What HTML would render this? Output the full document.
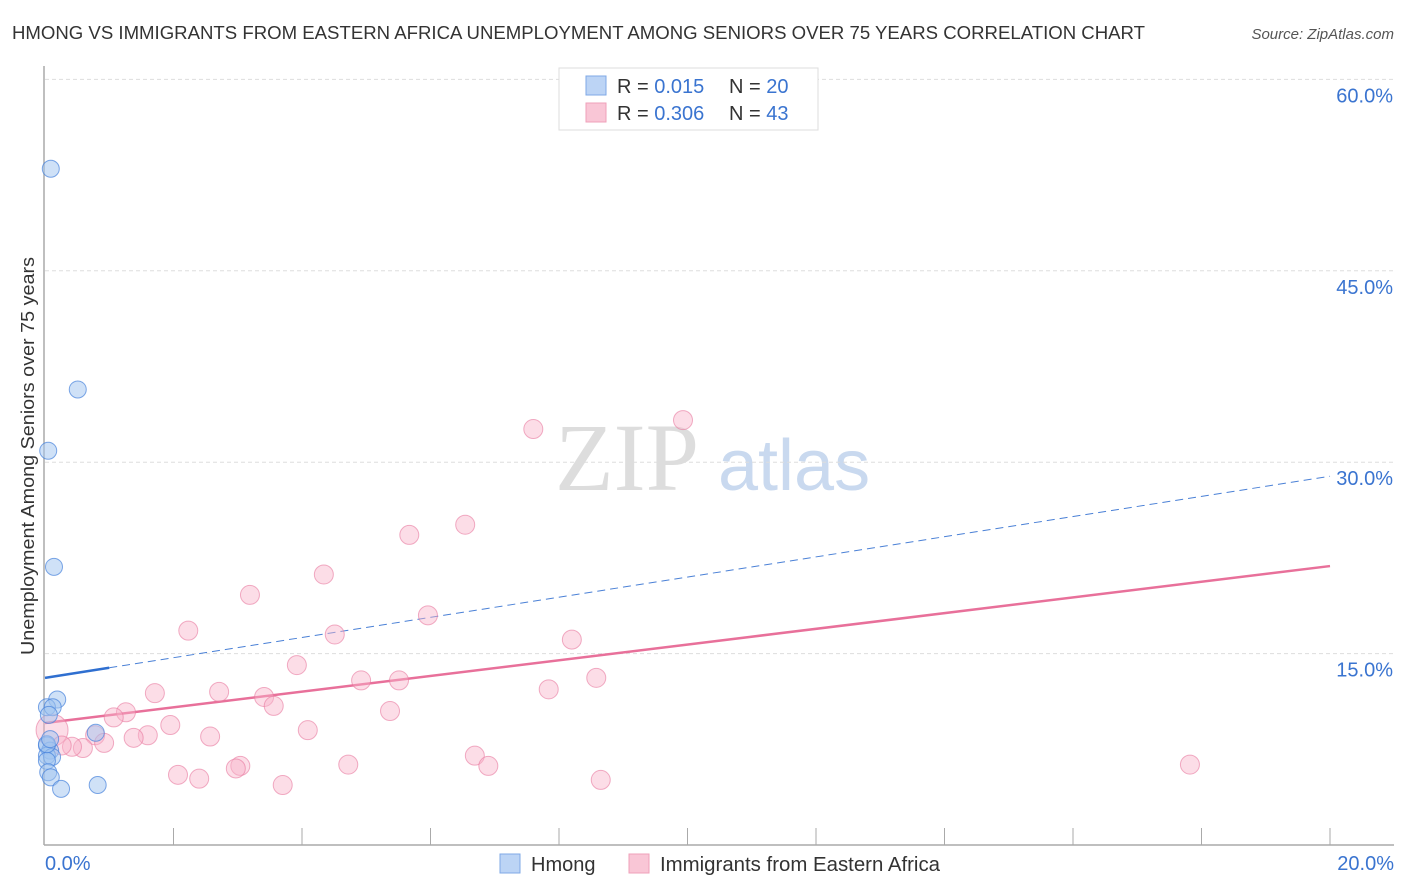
<!DOCTYPE html>
<html><head><meta charset="utf-8"><style>
body{margin:0;background:#fff;font-family:"Liberation Sans",sans-serif;}
svg{display:block}
</style></head><body>
<svg id="chart" width="1406" height="892" xmlns="http://www.w3.org/2000/svg">
<text x="12" y="39" font-size="18" fill="#333" textLength="1133" lengthAdjust="spacingAndGlyphs">HMONG VS IMMIGRANTS FROM EASTERN AFRICA UNEMPLOYMENT AMONG SENIORS OVER 75 YEARS CORRELATION CHART</text>
<text x="1394" y="39" font-size="15" fill="#555" text-anchor="end" font-style="italic">Source: ZipAtlas.com</text>
<text x="555" y="490" font-size="96" fill="#ddd" font-family="Liberation Serif,serif">ZIP</text>
<text x="718" y="490" font-size="72" fill="#c9d9ef">atlas</text>
<text transform="translate(34,456) rotate(-90)" font-size="18" fill="#333" text-anchor="middle" textLength="398" lengthAdjust="spacingAndGlyphs">Unemployment Among Seniors over 75 years</text>
<g id="grid"></g><g id="axes"></g><g id="lines"></g><g id="pts"></g>
<g>
<rect x="559" y="68" width="259" height="62" fill="#fff" stroke="#ddd"/>
<rect x="586" y="76" width="20" height="19" fill="#bcd4f5" stroke="#7fa8e6"/>
<rect x="586" y="103" width="20" height="19" fill="#f9c6d6" stroke="#efa0ba"/>
<text x="617" y="93" font-size="20" fill="#333">R = <tspan fill="#3a74d0">0.015</tspan></text>
<text x="729" y="93" font-size="20" fill="#333">N = <tspan fill="#3a74d0">20</tspan></text>
<text x="617" y="120" font-size="20" fill="#333">R = <tspan fill="#3a74d0">0.306</tspan></text>
<text x="729" y="120" font-size="20" fill="#333">N = <tspan fill="#3a74d0">43</tspan></text>
</g>
<g>
<rect x="500" y="854" width="20" height="19" fill="#bcd4f5" stroke="#7fa8e6"/>
<text x="531" y="871" font-size="20" fill="#333">Hmong</text>
<rect x="629" y="854" width="20" height="19" fill="#f9c6d6" stroke="#efa0ba"/>
<text x="660" y="871" font-size="20" fill="#333" textLength="280" lengthAdjust="spacingAndGlyphs">Immigrants from Eastern Africa</text>
</g>
</svg>
<script>
const yTicks=[15,30,45,60];
const yTickLabels=["15.0%","30.0%","45.0%","60.0%"];
const xTickLabels=["0.0%","20.0%"];
const hmongX=[0.09,0.51,0.05,0.14,0.19,0.03,0.12,0.06,0.79,0.03,0.08,0.03,0.11,0.03,0.05,0.09,0.25,0.82,0.03,0.08];
const hmongY=[53,35.7,30.9,21.8,11.4,10.8,10.8,10.2,8.8,7.8,7.4,7.0,6.9,6.6,5.7,5.3,4.4,4.7,7.9,8.3];
const eafX=[0.11,7.6,9.93,6.54,5.67,4.34,3.19,5.96,2.23,4.51,8.2,3.92,4.92,5.51,8.58,7.84,1.71,2.71,3.41,3.56,1.26,1.07,5.37,1.95,4.09,2.57,1.6,1.38,0.78,0.92,0.59,0.42,0.26,6.69,6.9,4.72,3.04,2.97,2.07,2.4,3.7,8.65,17.82];
const eafY=[9.0,32.6,33.3,25.1,24.3,21.2,19.6,18.0,16.8,16.5,16.1,14.1,12.9,12.9,13.1,12.2,11.9,12.0,11.6,10.9,10.4,10.0,10.5,9.4,9.0,8.5,8.6,8.4,8.6,8.0,7.6,7.7,7.8,7.0,6.2,6.3,6.2,6.0,5.5,5.2,4.7,5.1,6.3];
const hmongTrend=[13.1,28.9];
const eafTrend=[9.56,21.86];
const NS="http://www.w3.org/2000/svg";
const X=v=>45+v*64.25, Y=v=>845-v*12.76;
function mk(p,t,a){const e=document.createElementNS(NS,t);for(const k in a)e.setAttribute(k,a[k]);document.getElementById(p).appendChild(e);return e;}
yTicks.forEach((t,i)=>{
 const g=mk('grid','line',{x1:45,x2:1394,y1:Y(t),y2:Y(t),stroke:'#ddd','stroke-dasharray':'4,3'});
 
 
 const l=mk('grid','text',{x:1393,y:Y(t)+23,'font-size':20,fill:'#3a74d0','text-anchor':'end'});l.textContent=yTickLabels[i];
 
 
});
const ax=mk('axes','line',{x1:44,x2:44,y1:66,y2:845,stroke:'#aaa','stroke-width':1.5});


const bx=mk('axes','line',{x1:44,x2:1394,y1:845,y2:845,stroke:'#aaa','stroke-width':1.5});


for(let i=1;i<=10;i++){const t=mk('axes','line',{x1:X(i*2),x2:X(i*2),y1:828,y2:845,stroke:'#aaa'});
 
 }
[[0,'start',X(0)],[20,'end',1394]].forEach((d,i)=>{const t=mk('axes','text',{x:d[2],y:870,'font-size':20,fill:'#3a74d0','text-anchor':d[1]});t.textContent=xTickLabels[i];
 
 });
const hy=x=>hmongTrend[0]+(hmongTrend[1]-hmongTrend[0])*x/20;
const l1=mk('lines','line',{x1:X(0),y1:Y(hy(0)),x2:X(1),y2:Y(hy(1)),stroke:'#2f6fd0','stroke-width':2.5});


const l2=mk('lines','line',{x1:X(1),y1:Y(hy(1)),x2:X(20),y2:Y(hy(20)),stroke:'#4a80d6','stroke-width':1,'stroke-dasharray':'8,5'});


const l3=mk('lines','line',{x1:X(0),y1:Y(eafTrend[0]),x2:X(20),y2:Y(eafTrend[1]),stroke:'#e8709a','stroke-width':2.5});


eafX.forEach((x,i)=>{const c=mk('pts','circle',{cx:X(x),cy:Y(eafY[i]),r:i==0?16:9.5,fill:'rgba(248,180,202,0.45)',stroke:'rgba(232,120,158,0.6)','stroke-width':1});
 
 });
hmongX.forEach((x,i)=>{const c=mk('pts','circle',{cx:X(x),cy:Y(hmongY[i]),r:8.5,fill:'rgba(160,195,240,0.5)',stroke:'rgba(70,130,220,0.7)','stroke-width':1});
 
 });
</script>
</body></html>
